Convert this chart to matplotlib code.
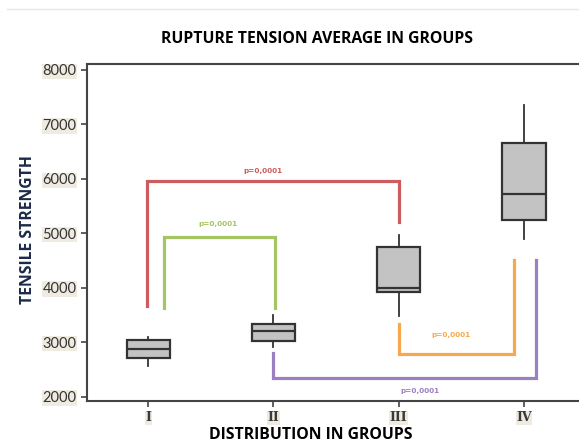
import matplotlib
matplotlib.use('Agg')
import matplotlib.pyplot as plt
from matplotlib.lines import Line2D

# box statistics
groups = ['I', 'II', 'III', 'IV']
q1 = [2703, 3015, 3921, 5242]
med = [2875, 3211, 4000, 5719]
q3 = [3033, 3339, 4747, 6655]
whislo = [2556, 2912, 3473, 4894]
whishi = [3095, 3499, 4972, 7358]

# significance brackets
br_xl = [0.99, 1.13, 3.0, 2.0]
br_xr = [3.0, 2.01, 3.92, 4.10]
br_yl = [3655, 3633, 3339, 2802]
br_yr = [5206, 3633, 4501, 4501]
br_bar = [5963, 4923, 2789, 2343]
br_txt = ['p=0,0001'] * 4
br_tx = [1.92, 1.56, 3.42, 3.17]
br_ty = [6147, 5174, 3138, 2097]
br_col = ['#cc5c5e', '#a5c463', '#f7a84d', '#9a80c0']

yticks = [2000, 3000, 4000, 5000, 6000, 7000, 8000]

fig = plt.figure(figsize=(5.79, 4.45), dpi=100)
ax = fig.add_axes([0.150, 0.099, 0.850, 0.757])

stats = []
for i in range(len(groups)):
    stats.append(dict(q1=q1[i], med=med[i], q3=q3[i], whislo=whislo[i], whishi=whishi[i], fliers=[]))
ax.bxp(stats, positions=range(1, 5), widths=0.345, showcaps=False, patch_artist=True,
       boxprops=dict(facecolor='#c3c3c3', edgecolor='#333333', linewidth=1.6),
       medianprops=dict(color='#333333', linewidth=1.6),
       whiskerprops=dict(color='#333333', linewidth=1.3))

for i in range(len(br_xl)):
    ax.plot([br_xl[i], br_xl[i], br_xr[i], br_xr[i]], [br_yl[i], br_bar[i], br_bar[i], br_yr[i]],
            color=br_col[i], lw=2.3, solid_joinstyle='miter')
    ax.text(br_tx[i], br_ty[i], br_txt[i], color=br_col[i], fontsize=5.2, ha='center', va='center',
            family='DejaVu Sans', fontweight='bold')

ax.set_xlim(0.51, 4.44)
ax.set_ylim(1921, 8105)
ax.set_yticks(yticks)
ax.set_yticklabels([str(v) for v in yticks])
ax.set_xticks(range(1, 5))
ax.set_xticklabels(groups)
for s in ['left', 'bottom', 'top']:
    ax.spines[s].set_color('#444444')
    ax.spines[s].set_linewidth(1.5)
ax.spines['right'].set_visible(False)
ax.tick_params(axis='both', length=4, width=1.2, color='#444444')
for t in ax.get_yticklabels():
    t.set_family('Lato')
    t.set_fontsize(10.5)
    t.set_color('#333333')
    t.set_bbox(dict(facecolor='#efebe0', edgecolor='none', pad=0.5))
for t in ax.get_xticklabels():
    t.set_family('DejaVu Serif')
    t.set_fontsize(9)
    t.set_fontweight('bold')
    t.set_color('#3a3a3a')
    t.set_bbox(dict(facecolor='#efebe0', edgecolor='none', pad=0.3))

fig.text(0.548, 0.913, 'RUPTURE TENSION AVERAGE IN GROUPS', ha='center', va='center',
         fontsize=11.3, fontweight='bold', family='Open Sans', color='#000000')
fig.text(0.537, 0.004, 'DISTRIBUTION IN GROUPS', ha='center', va='bottom',
         fontsize=11.3, fontweight='bold', family='Open Sans', color='#000000')
fig.text(0.048, 0.485, 'TENSILE STRENGTH', ha='center', va='center', rotation=90,
         fontsize=11.3, fontweight='bold', family='Open Sans', color='#1b2a48')

fig.add_artist(Line2D([0.012, 1.0], [0.98, 0.98], color='#e6e6e0', lw=1))

fig.savefig('out.png', dpi=100)
